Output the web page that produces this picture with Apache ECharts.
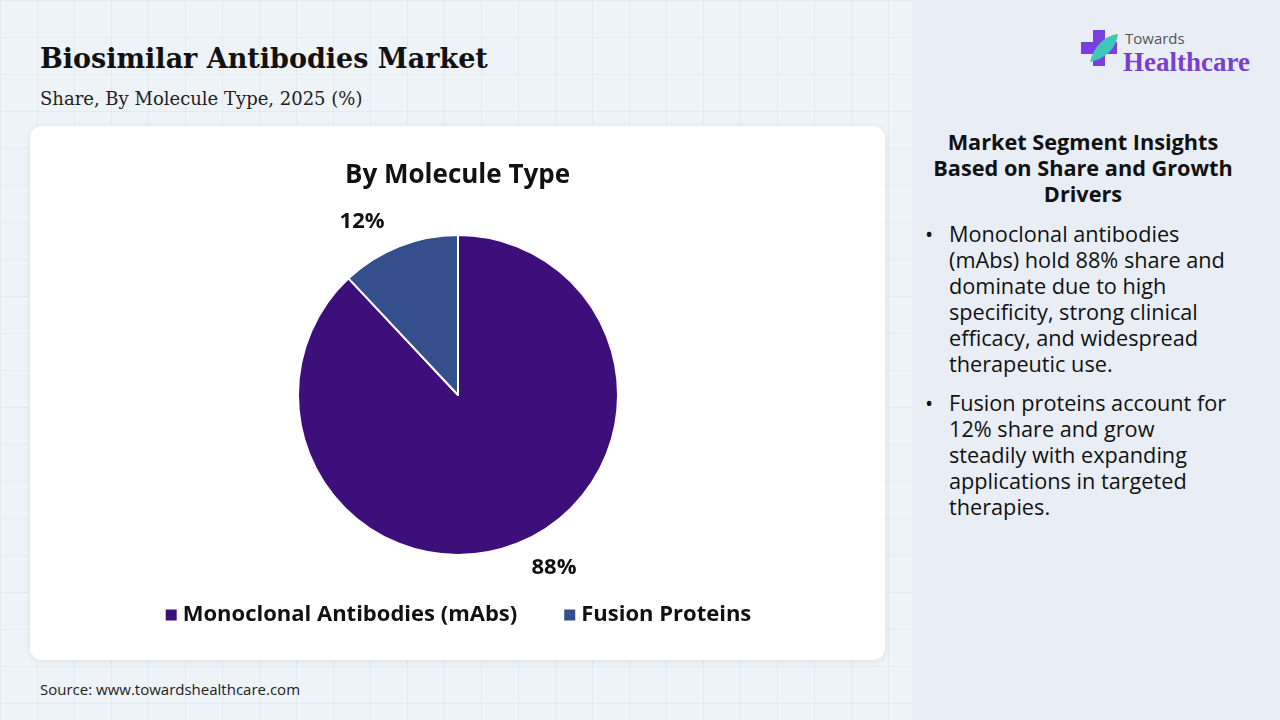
<!DOCTYPE html>
<html><head><meta charset="utf-8">
<script src="https://cdn.jsdelivr.net/npm/echarts@6/dist/echarts.min.js"></script>
<style>
html,body{margin:0;padding:0;width:1280px;height:720px;overflow:hidden;font-family:"Open Sans",sans-serif;}
#bg{position:absolute;left:0;top:0;width:912px;height:720px;
 background-color:#eef3f8;
 background-image:linear-gradient(rgba(200,212,228,0.3) 1px,transparent 1px),linear-gradient(90deg,rgba(200,212,228,0.3) 1px,transparent 1px);
 background-size:37px 37px;}
#side{position:absolute;left:912px;top:0;width:368px;height:720px;background:#e9eef6;}
#title{position:absolute;left:40px;top:43px;font-family:"DejaVu Serif",serif;font-weight:bold;font-size:27px;color:#111;}
#sub{position:absolute;left:40px;top:88px;font-family:"DejaVu Serif",serif;font-size:18px;color:#222;}
#card{position:absolute;left:30px;top:126px;width:855px;height:534px;background:#fff;border-radius:12px;box-shadow:0 1px 6px rgba(0,0,0,0.08);}
#chart{position:absolute;left:0;top:0;width:855px;height:534px;}
#src{position:absolute;left:40px;top:679px;font-size:15px;color:#222;}
#ins{position:absolute;left:905px;top:129px;width:356px;text-align:center;font-weight:bold;font-size:21.7px;line-height:26px;color:#111;}
#bul{position:absolute;left:925px;top:221px;width:305px;font-size:21.7px;line-height:26px;color:#111;}
#bul div{position:relative;padding-left:24px;margin-bottom:13px;}
#bul div:before{content:"•";position:absolute;left:0;}
#logo{position:absolute;left:1080px;top:26px;}
</style></head><body>
<div id="bg"></div><div id="side"></div>
<div id="title">Biosimilar Antibodies Market</div>
<div id="sub">Share, By Molecule Type, 2025 (%)</div>
<div id="card"><div id="chart"></div></div>
<div id="src">Source: www.towardshealthcare.com</div>
<div id="logo">
<svg width="180" height="50" viewBox="0 0 180 50">
<path d="M13 4h12v12h12v12H25v12H13V28H1V16h12z" fill="#7a3fe0"/>
<path d="M10 36 C14 20 24 10 38 8 C36 22 27 32 10 36z" fill="#3ec6b8"/>
<text x="45" y="18" font-family="Open Sans,sans-serif" font-size="15" fill="#555">Towards</text>
<text x="43" y="45" font-family="Liberation Serif,serif" font-weight="bold" font-size="27" fill="#7a3fd0">Healthcare</text>
</svg></div>
<div id="ins">Market Segment Insights<br>Based on Share and Growth<br>Drivers</div>
<div id="bul">
<div>Monoclonal antibodies (mAbs) hold 88% share and dominate due to high specificity, strong clinical efficacy, and widespread therapeutic use.</div>
<div>Fusion proteins account for 12% share and grow steadily with expanding applications in targeted therapies.</div>
</div>
<script>
const categories = ["Monoclonal Antibodies (mAbs)", "Fusion Proteins"];
const shares = [88, 12];
const colors = ["#3d0f7a", "#354e8c"];

const chart = echarts.init(document.getElementById('chart'));
chart.setOption({
  animation:false,
  title:{text:"By Molecule Type",left:"center",top:32,textStyle:{fontFamily:"Open Sans",fontWeight:"bold",fontSize:26,color:"#111"}},
  legend:{bottom:29,left:"center",itemWidth:13,itemHeight:13,itemGap:45,icon:"rect",
    textStyle:{fontFamily:"Open Sans",fontWeight:"bold",fontSize:22,color:"#111"},data:categories},
  series:[{type:"pie",center:[428,269],radius:160,startAngle:90,clockwise:true,
    itemStyle:{borderColor:"#fff",borderWidth:2},
    label:{show:true,position:"outside",formatter:"{c}%",fontFamily:"Open Sans",fontWeight:"bold",fontSize:22,color:"#111"},
    labelLine:{show:false,length:26,length2:0},
    data:categories.map((c,i)=>({name:c,value:shares[i],itemStyle:{color:colors[i]}}))}]
});
</script>
</body></html>
